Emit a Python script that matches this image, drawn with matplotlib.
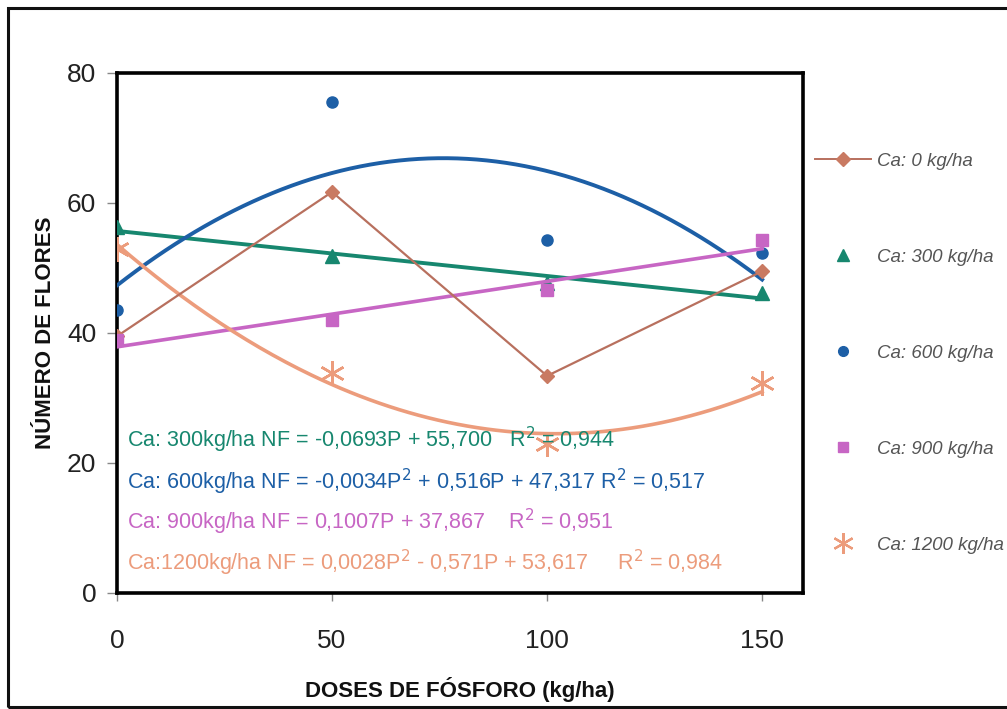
import matplotlib
matplotlib.use("Agg")
import matplotlib.pyplot as plt
import numpy as np
from matplotlib.patches import Rectangle
from matplotlib.lines import Line2D
from matplotlib import font_manager as fm

# ---------------- data ----------------
doses = [0, 50, 100, 150]
ca0 = [39.5, 61.7, 33.4, 49.5]
ca300 = [56.3, 51.8, 47.7, 46.2]
ca600 = [43.5, 75.5, 54.3, 52.3]
ca900 = [38.9, 42.0, 46.6, 54.3]
ca1200 = [53.0, 33.8, 23.0, 32.3]

# trend-line coefficients printed on the chart (highest power first)
coef300 = [-0.0693, 55.700]
coef600 = [-0.0034, 0.516, 47.317]
coef900 = [0.1007, 37.867]
coef1200 = [0.0028, -0.571, 53.617]

legend_labels = ["Ca: 0 kg/ha", "Ca: 300 kg/ha", "Ca: 600 kg/ha",
                 "Ca: 900 kg/ha", "Ca: 1200 kg/ha"]
x_ticks = [0, 50, 100, 150]
y_ticks = [0, 20, 40, 60, 80]

# ---------------- fonts ----------------
names = {f.name for f in fm.fontManager.ttflist}
narrow = "Liberation Sans Narrow" if "Liberation Sans Narrow" in names else "Liberation Sans"
plt.rcParams['font.family'] = [narrow, 'DejaVu Sans']

c0 = "#b8705e"
c0m = "#c97a62"
c300 = "#17876f"
c600 = "#1d5fa6"
c900 = "#c766c4"
c1200 = "#ec9c7c"

W, H = 1007, 709
fig = plt.figure(figsize=(W / 100, H / 100), dpi=100)
fig.patch.set_facecolor("white")

L, R, T, B = 117, 803, 73, 593
ax = fig.add_axes([L / W, 1 - B / H, (R - L) / W, (B - T) / H])
ax.set_xlim(0, 159.5)
ax.set_ylim(0, 80)

xs = np.linspace(0, 150, 200)

# Ca 0 : line with diamonds
ax.plot(doses, ca0, color=c0, lw=1.6, marker="D", ms=7, mfc=c0m, mec=c0m, zorder=4)
# Ca 300
ax.plot(xs, np.polyval(coef300, xs), color=c300, lw=2.8, zorder=3)
ax.plot(doses, ca300, ls="none", marker="^", ms=10, color=c300, zorder=3)
# Ca 600
ax.plot(xs, np.polyval(coef600, xs), color=c600, lw=2.8, zorder=3)
ax.plot(doses, ca600, ls="none", marker="o", ms=8, color=c600, zorder=3)
# Ca 900
ax.plot(xs, np.polyval(coef900, xs), color=c900, lw=2.6, zorder=3)
ax.plot(doses, ca900, ls="none", marker="s", ms=8, color=c900, zorder=5)
# Ca 1200
ax.plot(xs, np.polyval(coef1200, xs), color=c1200, lw=2.6, zorder=3)
ax.plot(doses, ca1200, ls="none", marker=(6, 2, 0), ms=18, mew=1.8, color=c1200, zorder=3)

# equations
eq_fs = 15.5
ax.text(2.3, 23.5, r"Ca: 300kg/ha NF = -0,0693P + 55,700   R$^2$ = 0,944", color=c300,
        fontsize=eq_fs, va="center", ha="left", zorder=6)
ax.text(2.3, 17.1, r"Ca: 600kg/ha NF = -0,0034P$^2$ + 0,516P + 47,317 R$^2$ = 0,517", color=c600,
        fontsize=eq_fs, va="center", ha="left", zorder=6)
ax.text(2.3, 10.9, r"Ca: 900kg/ha NF = 0,1007P + 37,867    R$^2$ = 0,951", color=c900,
        fontsize=eq_fs, va="center", ha="left", zorder=6)
ax.text(2.3, 4.7, r"Ca:1200kg/ha NF = 0,0028P$^2$ - 0,571P + 53,617     R$^2$ = 0,984", color=c1200,
        fontsize=eq_fs, va="center", ha="left", zorder=6)

# axes styling
for s in ax.spines.values():
    s.set_linewidth(2.6)
    s.set_color("black")
ax.set_xticks(x_ticks)
ax.set_yticks(y_ticks)
ax.tick_params(axis="x", direction="out", length=6, width=1, color="#888888",
               pad=20, labelsize=19, labelcolor="#222222")
ax.tick_params(axis="y", direction="out", length=7, width=1, color="#888888",
               pad=8, labelsize=19, labelcolor="#222222")
ax.set_xlabel("DOSES DE FÓSFORO (kg/ha)", fontsize=16, fontweight="bold",
              color="#111111", labelpad=17)
fig.text(46 / W, 1 - 333 / H, "NÚMERO DE FLORES", rotation=90, fontsize=16,
         fontweight="bold", color="#111111", ha="center", va="center")

# legend
handles = [
    Line2D([], [], color=c0, lw=1.4, marker="D", ms=7, mfc=c0m, mec=c0m),
    Line2D([], [], ls="none", marker="^", ms=9, color=c300),
    Line2D([], [], ls="none", marker="o", ms=7, color=c600),
    Line2D([], [], ls="none", marker="s", ms=7, color=c900),
    Line2D([], [], ls="none", marker=(6, 2, 0), ms=15, mew=1.6, color=c1200),
]
leg = fig.legend(handles, legend_labels, loc="upper left",
                 bbox_to_anchor=(798 / W, 1 - 136 / H), frameon=False,
                 prop={"family": [narrow, "DejaVu Sans"], "style": "italic", "size": 13.5},
                 labelspacing=4.2, handlelength=3.0, handletextpad=0.3,
                 labelcolor="#555555")

# figure border
fig.patches.append(Rectangle((8 / W, 1 - 707 / H), 1.2, (707 - 8) / H,
                             transform=fig.transFigure, fill=False,
                             edgecolor="#111111", lw=2.2))

fig.savefig("out.png", dpi=100)
